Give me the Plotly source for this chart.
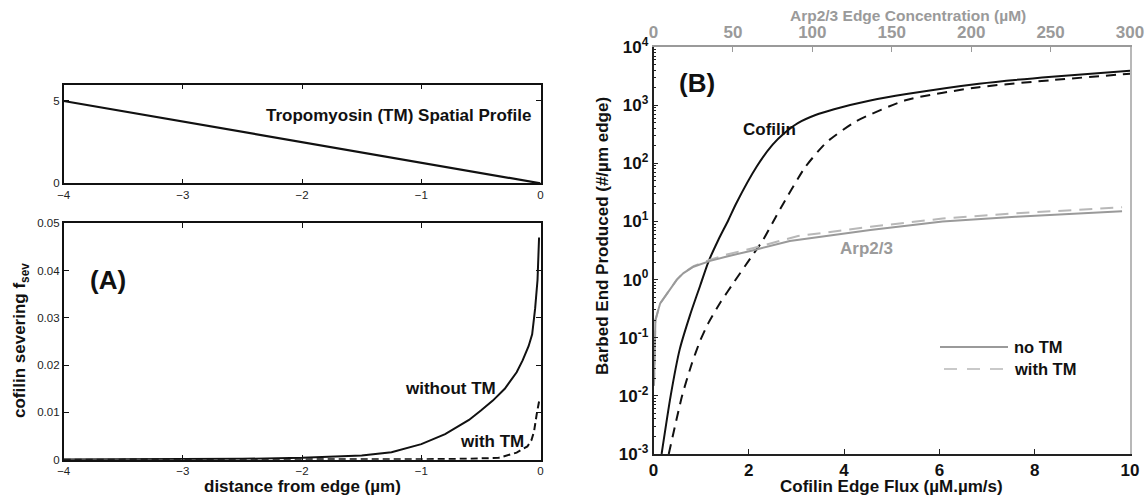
import plotly.graph_objects as go

W, H = 1148, 497

def px(x):
    return x / W

def py(y):
    return 1 - y / H

# ---------------- data ----------------
# (A) top: tropomyosin spatial profile
tm_x = [-4, 0]
tm_y = [5, 0]

# (A) bottom: cofilin severing
sev_x_noTM = [-4, -3.5, -3, -2.5, -2, -1.75, -1.5, -1.25, -1, -0.8, -0.6, -0.5,
              -0.4, -0.3, -0.2, -0.15, -0.1, -0.07, -0.045, -0.025, -0.012]
sev_y_noTM = [0.00002, 0.00004, 0.00008, 0.00018, 0.0004, 0.0006, 0.0009, 0.0016,
              0.0033, 0.0054, 0.0084, 0.0104, 0.0125, 0.015, 0.0185, 0.021,
              0.024, 0.0265, 0.032, 0.038, 0.047]
sev_x_TM = [-4, -2, -1, -0.6, -0.35, -0.2, -0.11, -0.075, -0.054, -0.03, -0.012]
sev_y_TM = [0.0, 0.00002, 0.0001, 0.0002, 0.0004, 0.0015, 0.0028, 0.0042, 0.006,
            0.0099, 0.0123]

# (B) cofilin barbed ends vs cofilin edge flux
cof_x_noTM = [0.17, 0.36, 0.55, 0.77, 0.98, 1.15, 1.36, 1.57, 1.73, 2.17, 2.5,
              2.75, 3.03, 3.4, 3.79, 4.55, 5.31, 6.83, 8.36, 10]
cof_y_noTM = [0.001, 0.01, 0.063, 0.25, 0.79, 2.0, 4.8, 10.5, 20, 89, 209,
              331, 490, 676, 851, 1200, 1550, 2340, 3090, 3890]
cof_x_TM = [0.32, 0.6, 0.8, 0.98, 1.15, 1.4, 1.7, 2.03, 2.3, 2.5, 2.72, 3.18,
            3.63, 4.25, 5.31, 6.83, 8.36, 10]
cof_y_TM = [0.001, 0.01, 0.035, 0.089, 0.178, 0.40, 0.93, 2.3, 4.8, 9.5, 20, 85,
            229, 525, 1230, 2040, 2690, 3470]

# (B) Arp2/3 barbed ends vs Arp2/3 edge concentration (top axis)
arp_x_noTM = [0.3, 0.6, 1.2, 4.2, 14.7, 18.9, 25.2, 35.7, 46.2, 63, 85.8, 136.5,
              182, 228, 295]
arp_y_noTM = [0.015, 0.07, 0.2, 0.39, 1.0, 1.29, 1.66, 2.1, 2.5, 3.2, 4.6, 7.1,
              10, 12, 15]
arp_x_TM = [0.3, 0.6, 1.2, 4.2, 14.7, 18.9, 25.2, 35.7, 46.2, 63, 91, 136.5, 182,
            228, 295]
arp_y_TM = [0.015, 0.07, 0.2, 0.39, 1.0, 1.31, 1.7, 2.2, 2.7, 3.5, 5.6, 8.1,
            11.2, 13.8, 17.5]

# tick labels
xA_ticks = [-4, -3, -2, -1, 0]
xA_text = ["\u22124", "\u22123", "\u22122", "\u22121", "0"]
yA1_ticks = [0, 5]
yA2_ticks = [0, 0.01, 0.02, 0.03, 0.04, 0.05]
yA2_text = ["0", "0.01", "0.02", "0.03", "0.04", "0.05"]
xB_ticks = [0, 2, 4, 6, 8, 10]
xB_top_ticks = [0, 50, 100, 150, 200, 250, 300]
yB_exp = [-3, -2, -1, 0, 1, 2, 3, 4]

BLK = "#111111"
GRAY = "#9a9a9a"
LGRAY = "#b8b8b8"
FONT = "Liberation Sans, Arial, Helvetica, sans-serif"

fig = go.Figure()

fig.add_trace(go.Scatter(x=tm_x, y=tm_y, mode="lines", xaxis="x", yaxis="y",
                         line=dict(color=BLK, width=2.2), showlegend=False))
fig.add_trace(go.Scatter(x=sev_x_noTM, y=sev_y_noTM, mode="lines", xaxis="x2", yaxis="y2",
                         line=dict(color=BLK, width=2), showlegend=False))
fig.add_trace(go.Scatter(x=sev_x_TM, y=sev_y_TM, mode="lines", xaxis="x2", yaxis="y2",
                         line=dict(color=BLK, width=2, dash="7px,4px"), showlegend=False))

fig.add_trace(go.Scatter(x=cof_x_noTM, y=cof_y_noTM, mode="lines", xaxis="x3", yaxis="y3",
                         line=dict(color=BLK, width=2, shape="spline", smoothing=0.6),
                         showlegend=False))
fig.add_trace(go.Scatter(x=cof_x_TM, y=cof_y_TM, mode="lines", xaxis="x3", yaxis="y3",
                         line=dict(color=BLK, width=2, dash="10px,7px", shape="spline",
                                   smoothing=0.6), showlegend=False))
fig.add_trace(go.Scatter(x=arp_x_TM, y=arp_y_TM, mode="lines", xaxis="x4", yaxis="y4",
                         line=dict(color=LGRAY, width=2, dash="13px,8px"), showlegend=False))
fig.add_trace(go.Scatter(x=arp_x_noTM, y=arp_y_noTM, mode="lines", xaxis="x4", yaxis="y4",
                         line=dict(color=GRAY, width=2), showlegend=False))

small_tick = dict(size=11.5, color="#222222", family=FONT)
common_A = dict(showline=True, linecolor=BLK, linewidth=1.6, mirror="ticks",
                ticks="inside", ticklen=5, tickcolor=BLK, tickwidth=1,
                showgrid=False, zeroline=False, tickfont=small_tick, automargin=False)

minor_vals = []
for e in range(-3, 4):
    for m in range(2, 10):
        minor_vals.append(m * 10 ** e)

fig.update_layout(
    width=W, height=H,
    margin=dict(l=0, r=0, t=0, b=0, autoexpand=False),
    paper_bgcolor="white", plot_bgcolor="white",
    font=dict(family=FONT, color=BLK),
    xaxis=dict(domain=[px(63.7), px(540.5)], range=[-4, 0], anchor="y",
               tickvals=xA_ticks, ticktext=xA_text, **common_A),
    yaxis=dict(domain=[py(183.3), py(84.5)], range=[0, 6], anchor="x",
               tickvals=yA1_ticks, **common_A),
    xaxis2=dict(domain=[px(63.7), px(540.5)], range=[-4, 0], anchor="y2",
                tickvals=xA_ticks, ticktext=xA_text, **common_A),
    yaxis2=dict(domain=[py(459.7), py(223.3)], range=[0, 0.05], anchor="x2",
                tickvals=yA2_ticks, ticktext=yA2_text, **common_A),
    xaxis3=dict(domain=[px(653.5), px(1130)], range=[0, 10], anchor="y3",
                tickvals=xB_ticks, ticktext=["<b>%d</b>" % v for v in xB_ticks],
                showline=True, linecolor="#222222", linewidth=1.6, ticks="inside",
                ticklen=5, tickcolor="#222222", showgrid=False, zeroline=False,
                automargin=False, tickfont=dict(size=17, color=BLK, family=FONT)),
    yaxis3=dict(domain=[py(454), py(47)], type="log", range=[-3, 4], anchor="x3",
                tickvals=[10 ** e for e in yB_exp],
                ticktext=["<b>10<sup>%d</sup></b>" % e for e in yB_exp],
                showline=True, linecolor="#222222", linewidth=1.6, ticks="inside",
                ticklen=5, tickcolor="#222222", showgrid=False, zeroline=False,
                automargin=False, tickfont=dict(size=17, color=BLK, family=FONT),
                minor=dict(tickvals=minor_vals, ticks="inside", ticklen=2.5,
                           tickcolor="#222222", showgrid=False)),
    xaxis4=dict(overlaying="x3", side="top", range=[0, 300], anchor="y3",
                tickvals=xB_top_ticks,
                ticktext=["<b>%d</b>" % v for v in xB_top_ticks],
                showline=True, linecolor=GRAY, linewidth=1.6, ticks="inside",
                ticklen=5, tickcolor=GRAY, showgrid=False, zeroline=False,
                automargin=False, tickfont=dict(size=17, color=GRAY, family=FONT)),
    yaxis4=dict(overlaying="y3", side="right", type="log", range=[-3, 4], anchor="x3",
                showline=True, linecolor=LGRAY, linewidth=1.6, ticks="",
                showticklabels=False, showgrid=False, zeroline=False, automargin=False),
)

ann = []

def add_text(text, x, y, size, color=BLK, xanchor="center", yanchor="middle", angle=0):
    ann.append(dict(text=text, x=px(x), y=py(y), xref="paper", yref="paper",
                    xanchor=xanchor, yanchor=yanchor, showarrow=False, textangle=angle,
                    font=dict(size=size, color=color, family=FONT)))

add_text("<b>Tropomyosin (TM) Spatial Profile</b>", 533, 116, 17, xanchor="right")
add_text("<b>(A)</b>", 108, 280, 26)
add_text("<b>without TM</b>", 450, 388, 17)
add_text("<b>with TM</b>", 492, 441, 17)
add_text("<b>cofilin severing f<sub>sev</sub></b>", 21, 341, 17, angle=-90)
add_text("<b>distance from edge (\u00b5m)</b>", 302, 486, 17)

add_text("<b>(B)</b>", 697, 83, 26)
add_text("<b>Cofilin</b>", 769, 130, 17)
add_text("<b>Arp2/3</b>", 866, 249, 17, color=GRAY)
add_text("<b>Barbed End Produced (#/\u00b5m edge)</b>", 602, 236, 17, angle=-90)
add_text("<b>Cofilin Edge Flux (\u00b5M.\u00b5m/s)</b>", 891, 486.5, 17)
add_text("<b>Arp2/3 Edge Concentration (\u00b5M)</b>", 908, 15.5, 15.5, color=GRAY)

# legend
add_text("<b>no TM</b>", 1012, 347, 16.5, xanchor="left")
add_text("<b>with TM</b>", 1012, 369, 16.5, xanchor="left")

shapes = [
    dict(type="line", xref="paper", yref="paper", x0=px(940), x1=px(1008),
         y0=py(347), y1=py(347), line=dict(color=GRAY, width=2)),
    dict(type="line", xref="paper", yref="paper", x0=px(944), x1=px(1008),
         y0=py(369), y1=py(369), line=dict(color=LGRAY, width=1.5, dash="13px,10px")),
]

fig.update_layout(annotations=ann, shapes=shapes)

fig.write_html("out.html", config={"displayModeBar": False},
               post_script="document.body.style.margin='0';document.body.style.overflow='hidden';")
